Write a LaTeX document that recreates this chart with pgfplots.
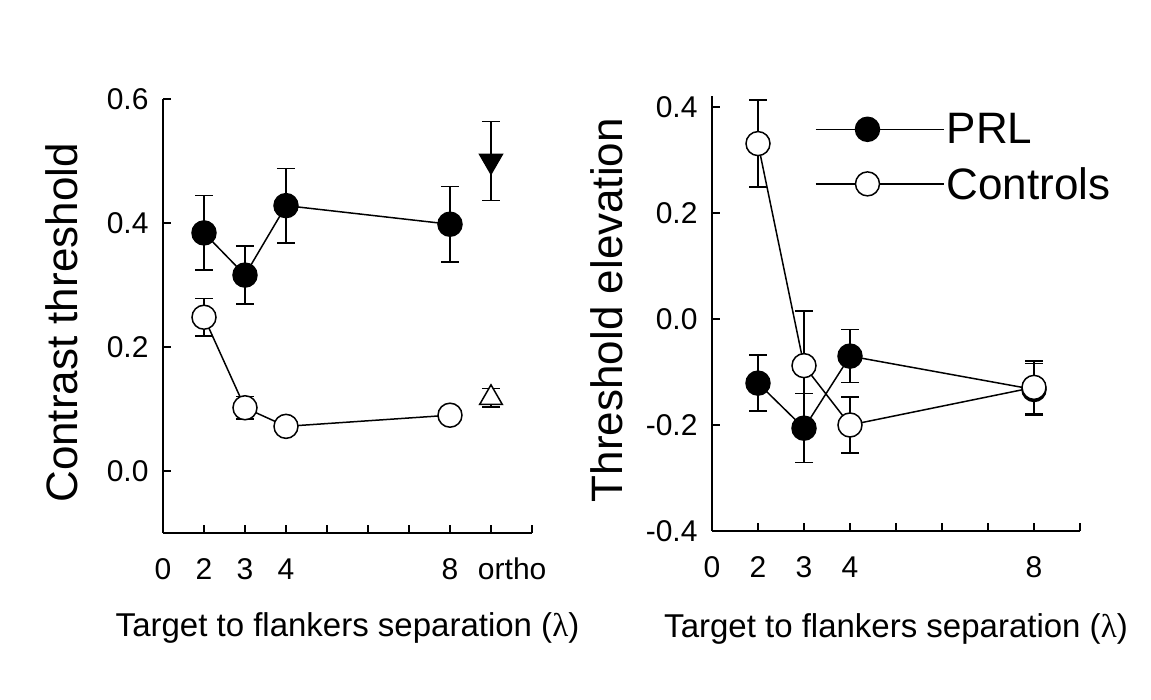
\documentclass[border=0pt]{standalone}
\usepackage{fontspec}
\setmainfont{Liberation Sans}
\newfontfamily\lamfont{Liberation Serif}
\usepackage{pgfplots}
\pgfplotsset{compat=1.18}
\begin{document}
\begin{tikzpicture}
\useasboundingbox (0,0) rectangle (1151pt,700pt);
\pgfplotsset{
 common/.style={
  scale only axis,
  axis x line*=bottom, axis y line*=left,
  axis line style={line width=1.8pt,-},
  tick align=inside,
  major tick length=8pt,
  tick style={line width=1.5pt,black},
  xticklabel style={font=\fontsize{30}{32}\selectfont, text height=22pt, text depth=0pt, yshift=-21pt},
  yticklabel style={font=\fontsize{30}{32}\selectfont, xshift=-11pt},
  xlabel style={font=\fontsize{33}{36}\selectfont, anchor=base, inner sep=0pt},
  ylabel style={font=\fontsize{44}{46}\selectfont, anchor=base, inner sep=0pt},
  clip=false,
 },
 prl/.style={black, line width=1.5pt, mark=*, mark size=12pt, mark options={fill=black, line width=1.5pt},
   error bars/y dir=both, error bars/y explicit,
   error bars/error bar style={line width=1.5pt, black},
   error bars/error mark options={rotate=90, mark size=9pt, line width=1.5pt, black}},
 ctl/.style={black, line width=1.5pt, mark=*, mark size=12pt, mark options={fill=white, line width=1.5pt},
   error bars/y dir=both, error bars/y explicit,
   error bars/error bar style={line width=1.5pt, black},
   error bars/error mark options={rotate=90, mark size=9pt, line width=1.5pt, black}},
}
% ---------------- left panel
\begin{axis}[common,
  at={(163pt,167pt)}, anchor=south west,
  width=369pt, height=434pt,
  xmin=1, xmax=10, ymin=-0.1, ymax=0.6,
  xtick={2,3,4,5,6,7,8,9,10},
  xticklabels={2,3,4,,,,8,\makebox[0pt][l]{\hspace{-13pt}ortho},},
  extra x ticks={1}, extra x tick labels={0},
  ytick={0,0.2,0.4,0.6},
  yticklabels={0.0,0.2,0.4,0.6},
  xlabel={Target to flankers separation ({\lamfont λ})},
  ylabel={Contrast threshold},
  xlabel style={at={(axis description cs:0.5,-0.2396)}},
  ylabel style={at={(axis description cs:-0.2304,0.484)}},
]
\addplot[prl] coordinates {(2,0.384) +- (0,0.060) (3,0.316) +- (0,0.047) (4,0.428) +- (0,0.060) (8,0.398) +- (0,0.061)};
\addplot[prl, only marks, mark=triangle*, mark size=13pt, mark options={rotate=180, fill=black}] coordinates {(9,0.500) +- (0,0.064)};
\addplot[ctl] coordinates {(2,0.248) +- (0,0.030) (3,0.102) +- (0,0.018) (4,0.072) +- (0,0.008) (8,0.090) +- (0,0.008)};
\addplot[ctl, only marks, mark=triangle*, mark size=13pt, mark options={fill=white}] coordinates {(9,0.118) +- (0,0.015)};
\end{axis}
% ---------------- right panel
\begin{axis}[common,
  at={(712pt,169pt)}, anchor=south west,
  width=368pt, height=435pt,
  xmin=1, xmax=9, ymin=-0.4, ymax=0.4208,
  xtick={2,3,4,5,6,7,8,9},
  xticklabels={2,3,4,,,,8,},
  extra x ticks={1}, extra x tick labels={0},
  ytick={-0.4,-0.2,0,0.2,0.4},
  yticklabels={-0.4,-0.2,0.0,0.2,0.4},
  xlabel={Target to flankers separation ({\lamfont λ})},
  ylabel={Threshold elevation},
  xlabel style={at={(axis description cs:0.5,-0.2437)}},
  ylabel style={at={(axis description cs:-0.242,0.508)}},
  legend style={draw=none, fill=none, at={(rel axis cs:0.28,0.965)}, anchor=north west,
    font=\fontsize{44}{46}\selectfont, inner sep=0pt, row sep=18pt},
  legend cell align=left,
  legend image code/.code={\path (0pt,0pt) -- (128pt,0pt);\draw[#1, mark repeat=2, mark phase=2] plot coordinates {(0pt,0pt) (51.5pt,0pt) (103pt,0pt)};},
]
\addplot[prl] coordinates {(2,-0.121) +- (0,0.053) (3,-0.206) +- (0,0.065) (4,-0.070) +- (0,0.050) (8,-0.133) +- (0,0.049)};
\addlegendentry{PRL}
\addplot[ctl] coordinates {(2,0.331) +- (0,0.082) (3,-0.088) +- (0,0.103) (4,-0.200) +- (0,0.053) (8,-0.129) +- (0,0.050)};
\addlegendentry{Controls}
\end{axis}
\end{tikzpicture}
\end{document}
